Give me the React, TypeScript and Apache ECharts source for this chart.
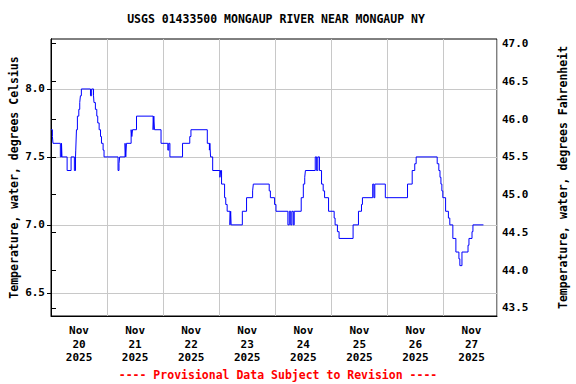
import React, { useEffect, useRef } from "react";
import * as echarts from "echarts";

// Hours since Nov 20 2025 00:00 at which the temperature changes, and the new value (deg C)
const hours = [
  0, 0.6, 0.86, 4.0, 4.5, 4.7, 6.9, 8.6, 10.0, 10.5, 10.6, 10.9, 11.3, 11.9, 12.3, 12.6, 13.0,
  16.9, 17.4, 18.2, 18.4, 19.0, 19.6, 20.0, 20.6, 21.2, 21.6, 22.3, 22.7, 28.7, 29.1, 29.4,
  31.7, 32.0, 32.3, 34.3, 34.6, 34.9, 36.6, 43.7, 44.0, 44.3, 47.1, 50.0, 50.4, 50.9, 56.3,
  59.4, 59.9, 66.9, 67.8, 68.0, 68.3, 69.2, 72.3, 72.6, 73.0, 74.3, 74.8, 75.4, 76.6, 76.9,
  77.1, 81.9, 83.7, 86.3, 86.6, 93.4, 93.9, 95.7, 96.3, 101.4, 102.0, 102.6, 103.1, 103.7,
  104.1, 107.1, 108.0, 108.6, 108.9, 113.1, 113.7, 114.2, 114.9, 115.8, 116.5, 117.1, 118.8,
  121.2, 121.6, 122.6, 123.3, 129.3, 131.6, 132.9, 133.3, 137.7, 138.2, 138.6, 143.1, 152.6,
  154.6, 155.7, 156.3, 165.3, 166.0, 166.5, 166.9, 167.3, 167.7, 168.9, 170.1, 170.7, 172.0,
  173.3, 174.6, 175.0, 175.9, 178.5, 178.9, 180.2, 180.6, 185.1,
];
const tempC = [
  7.7, 7.65, 7.6, 7.5, 7.6, 7.5, 7.4, 7.5, 7.4, 7.5, 7.55, 7.7, 7.8, 7.85, 7.9, 7.95, 8.0,
  7.95, 8.0, 7.95, 7.9, 7.85, 7.8, 7.75, 7.7, 7.65, 7.6, 7.55, 7.5, 7.4, 7.45, 7.5,
  7.6, 7.5, 7.6, 7.7, 7.65, 7.7, 7.8, 7.7, 7.8, 7.7, 7.6, 7.55, 7.6, 7.5, 7.6,
  7.65, 7.7, 7.6, 7.55, 7.6, 7.5, 7.4, 7.35, 7.4, 7.3, 7.2, 7.15, 7.1, 7.0, 7.1,
  7.0, 7.1, 7.2, 7.25, 7.3, 7.25, 7.2, 7.15, 7.1, 7.0, 7.1, 7.0, 7.1, 7.0,
  7.1, 7.2, 7.3, 7.35, 7.4, 7.5, 7.4, 7.5, 7.4, 7.3, 7.25, 7.2, 7.1,
  7.05, 7.0, 6.95, 6.9, 7.0, 7.1, 7.15, 7.2, 7.3, 7.2, 7.3, 7.2, 7.3,
  7.4, 7.45, 7.5, 7.45, 7.4, 7.35, 7.3, 7.25, 7.2, 7.1, 7.05, 7.0, 6.9,
  6.8, 6.75, 6.7, 6.8, 6.85, 6.9, 6.95, 7.0, 7.0,
];

const dayLabels = ["20", "21", "22", "23", "24", "25", "26", "27"];
const celsiusTicks = [6.5, 7.0, 7.5, 8.0];
const fahrenheitTicks = [43.5, 44.0, 44.5, 45.0, 45.5, 46.0, 46.5, 47.0];

const cMin = 6.3294;
const cMax = 8.3676;
const xMax = 190.9;

const FONT = "DejaVu Sans Mono";

export default function App() {
  const ref = useRef<HTMLDivElement>(null);
  useEffect(() => {
    if (!ref.current) return;
    const chart = echarts.init(ref.current, undefined, { renderer: "svg" });
    const data = hours.map((h, i) => [h, tempC[i]]);
    const labelStyle = {
      fontFamily: FONT,
      fontWeight: "bold" as const,
      fontSize: 11,
      color: "#000",
    };
    chart.setOption({
      animation: false,
      backgroundColor: "#fff",
      grid: {
        left: 51,
        top: 39,
        width: 446,
        height: 277,
        containLabel: false,
        outerBoundsMode: "none",
        show: true,
        borderColor: "#000",
        borderWidth: 1,
        backgroundColor: "transparent",
      },
      xAxis: [
        {
          type: "value",
          min: 0,
          max: xMax,
          interval: 12,
          position: "bottom",
          axisLine: { show: true, lineStyle: { color: "#000", width: 1 } },
          axisTick: { show: false },
          splitLine: { show: false },
          axisLabel: {
            ...labelStyle,
            margin: 8,
            lineHeight: 13.5,
            showMinLabel: false,
            showMaxLabel: false,
            formatter: (v: number) => {
              if (Math.round(v) % 24 !== 12) return "";
              const idx = Math.round((v - 12) / 24);
              return `Nov\n${dayLabels[idx]}\n2025`;
            },
          },
        },
        {
          type: "value",
          min: 0,
          max: xMax,
          interval: 24,
          position: "bottom",
          axisLine: { show: false },
          axisTick: { show: false },
          axisLabel: { show: false },
          splitLine: { show: true, lineStyle: { color: "#c8c8c8", width: 1 } },
        },
      ],
      yAxis: [
        {
          type: "value",
          min: cMin,
          max: cMax,
          position: "left",
          name: "Temperature, water, degrees Celsius",
          nameLocation: "middle",
          nameGap: 31,
          nameMoveOverlap: false,
          nameTextStyle: { ...labelStyle, fontSize: 11.5 },
          axisLine: { show: true, lineStyle: { color: "#000" } },
          axisTick: { show: true, length: 4, customValues: celsiusTicks, lineStyle: { color: "#000" } },
          axisLabel: {
            ...labelStyle,
            margin: 6,
            customValues: celsiusTicks,
            formatter: (v: number) => v.toFixed(1),
          },
          splitLine: { show: true, lineStyle: { color: "#c8c8c8", width: 1 } },
        },
        {
          type: "value",
          min: cMin * 1.8 + 32,
          max: cMax * 1.8 + 32,
          position: "right",
          name: "Temperature, water, degrees Fahrenheit",
          nameLocation: "middle",
          nameGap: 60,
          nameRotate: 90,
          nameMoveOverlap: false,
          nameTextStyle: { ...labelStyle, fontSize: 11.5 },
          axisLine: { show: true, lineStyle: { color: "#000" } },
          axisTick: { show: true, length: 5, customValues: fahrenheitTicks, lineStyle: { color: "#000" } },
          axisLabel: {
            ...labelStyle,
            margin: 5,
            customValues: fahrenheitTicks,
            formatter: (v: number) => v.toFixed(1),
          },
          splitLine: { show: false },
        },
      ],
      series: [
        {
          type: "line",
          xAxisIndex: 0,
          yAxisIndex: 0,
          data,
          step: "end",
          showSymbol: false,
          symbol: "none",
          lineStyle: { color: "#0000ff", width: 1 },
        },
      ],
      graphic: [
        {
          type: "text",
          x: 276,
          y: 19,
          style: {
            text: "USGS 01433500 MONGAUP RIVER NEAR MONGAUP NY",
            fontFamily: FONT,
            fontWeight: "bold",
            fontSize: 11.5,
            fill: "#000",
            align: "center",
            verticalAlign: "middle",
          },
        },
        {
          type: "text",
          x: 278,
          y: 375,
          style: {
            text: "---- Provisional Data Subject to Revision ----",
            fontFamily: FONT,
            fontWeight: "bold",
            fontSize: 11.5,
            fill: "#ff0000",
            align: "center",
            verticalAlign: "middle",
          },
        },
      ],
    });
    return () => chart.dispose();
  }, []);
  return (
    <div
      ref={ref}
      style={{ position: "fixed", left: 0, top: 0, width: 576, height: 384, background: "#fff" }}
    />
  );
}
